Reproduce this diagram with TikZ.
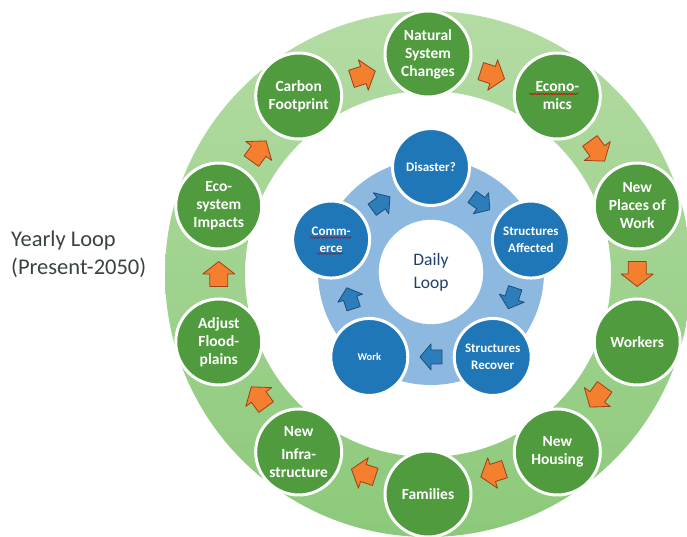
\documentclass[tikz,border=0pt]{standalone}
\usepackage{fontspec}
\setmainfont{Carlito}
\usetikzlibrary{calc,decorations.pathmorphing}
\definecolor{ringgreenA}{HTML}{B4DCA4}
\definecolor{ringgreenB}{HTML}{8CC97A}
\definecolor{nodegreen}{HTML}{4F9B3E}
\definecolor{arroworange}{HTML}{F47F2F}
\definecolor{arrowedge}{HTML}{9E3F18}
\definecolor{ringblue}{HTML}{8DB9E0}
\definecolor{nodeblue}{HTML}{1F77B8}
\definecolor{arrowblue}{HTML}{2C7DBA}
\definecolor{arrowblueedge}{HTML}{1B4F7E}
\definecolor{dailytext}{HTML}{1F406C}
\definecolor{yeartext}{HTML}{3A443C}
\tikzset{
  barrowpic/.pic={\path[pic actions] (-12.5,-9) -- (0,-9) -- (0,-16) -- (12.5,0) -- (0,16) -- (0,9) -- (-12.5,9) -- cycle;},
  bluearrowpic/.pic={\path[pic actions] (-11,-7) -- (0,-7) -- (0,-13) -- (11,0) -- (0,13) -- (0,7) -- (-11,7) -- cycle;},
  gnode/.style={circle, fill=nodegreen, draw=white, line width=3pt, minimum size=86pt, inner sep=0pt,
    text=white, font=\bfseries\fontsize{15.5}{18}\selectfont, align=center},
  bnode/.style={circle, fill=nodeblue, draw=white, line width=3pt, minimum size=77pt, inner sep=0pt,
    text=white, font=\bfseries\fontsize{13}{17}\selectfont, align=center},
  oarrow/.style={fill=arroworange, draw=arrowedge, line width=0.8pt, line join=round},
  barrowstyle/.style={fill=arrowblue, draw=arrowblueedge, line width=0.8pt, line join=round},
  spell/.style={draw=red!85!black, line width=0.6pt, decorate,
    decoration={snake, amplitude=0.7pt, segment length=2.6pt}}
}
\begin{document}
\begin{tikzpicture}[x=1pt,y=1pt]
\useasboundingbox (0,0) rectangle (687,537);
\clip (0,0) rectangle (687,537);
\fill[white] (0,0) rectangle (687,537);
\coordinate (G) at (428,263);
\coordinate (B) at (431,265);
% outer green ring
\shade[top color=ringgreenA, bottom color=ringgreenB, even odd rule]
  (G) circle (263pt) (G) circle (183pt);
% green nodes
\foreach \ang/\txt [count=\i from 0] in {
  90/{Natural\\System\\Changes},
  54/{Econo-\\mics},
  18/{New\\Places of\\Work},
  -18/{Workers},
  -54/{New\\Housing},
  -90/{Families},
  -126/{New\\[5pt]Infra-\\structure},
  -162/{Adjust\\Flood-\\plains},
  162/{Eco-\\system\\Impacts},
  126/{Carbon\\Footprint}}
  \node[gnode] (g\i) at ($(G)+(\ang:220pt)$) {\txt};
% orange arrows between green nodes
\foreach \i in {0,...,9}{
  \pgfmathtruncatemacro\j{mod(\i+1,10)}
  \pgfmathsetmacro\rot{-18-36*\i}
  \pic[oarrow, rotate=\rot] at ($(g\i.center)!0.5!(g\j.center)$) {barrowpic};
}
% inner blue ring
\fill[ringblue] (B) circle (113pt);
\node[circle, fill=white, draw=white, minimum size=104pt, inner sep=0pt,
  font=\fontsize{17.5}{23}\selectfont, text=dailytext, align=center] (daily) at (B) {Daily\\Loop};
% blue nodes
\foreach \ang/\txt [count=\i from 0] in {
  90/{Disaster?},
  18/{Structures\\Affected},
  -54/{Structures\\Recover},
  -126/{{\fontsize{10.5}{12}\selectfont Work}},
  162/{Comm-\\erce}}
  \node[bnode] (b\i) at ($(B)+(\ang:105pt)$) {\txt};
% blue arrows
\foreach \i in {0,...,4}{
  \pgfmathtruncatemacro\j{mod(\i+1,5)}
  \pgfmathsetmacro\rot{-36-72*\i}
  \pic[barrowstyle, rotate=\rot] at ($(b\i.center)!0.5!(b\j.center)$) {bluearrowpic};
}
% spell-check underlines
\path[spell] ([xshift=-28pt,yshift=2pt]g1.center) -- ([xshift=21pt,yshift=2pt]g1.center);
\path[spell] ([xshift=-21pt,yshift=2pt]b4.center) -- ([xshift=20pt,yshift=2pt]b4.center);
\path[spell] ([xshift=-14pt,yshift=-14pt]b4.center) -- ([xshift=12pt,yshift=-14pt]b4.center);
% label
\node[anchor=west, align=left, text=yeartext, font=\fontsize{22.5}{28}\selectfont, inner sep=0pt]
  (yearly) at (11,283) {Yearly Loop\\(Present-2050)};
\end{tikzpicture}
\end{document}
